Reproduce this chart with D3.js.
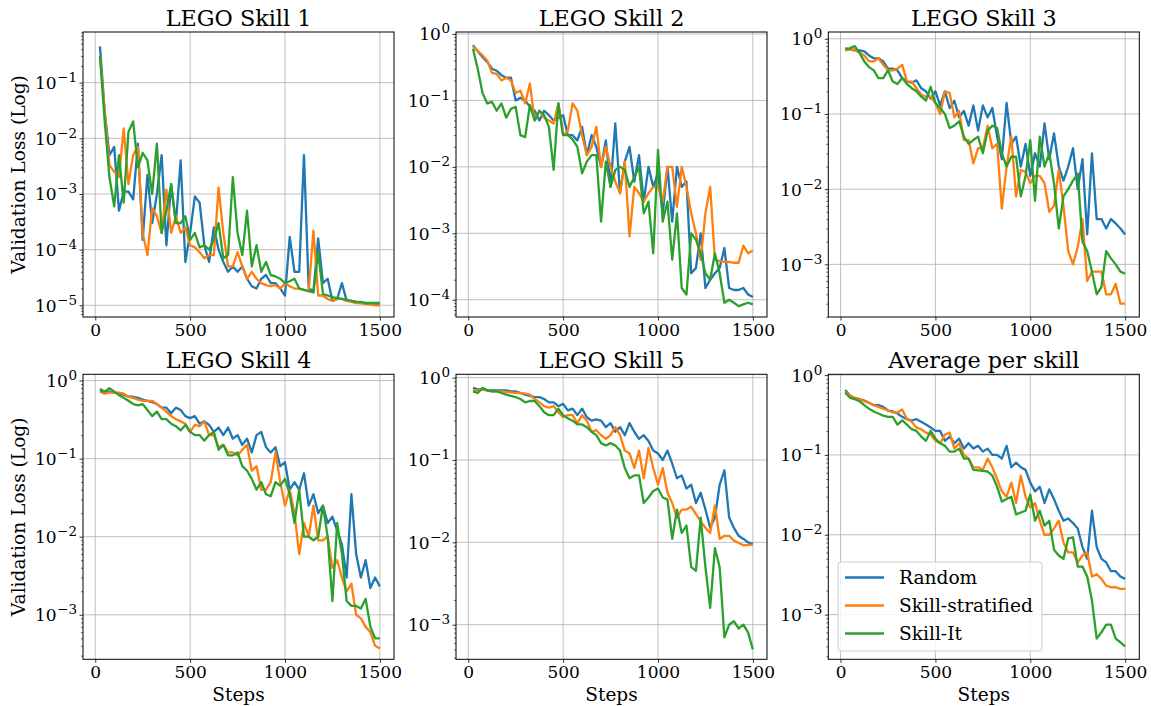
<!DOCTYPE html>
<html>
<head>
<meta charset="utf-8">
<script src="https://cdn.jsdelivr.net/npm/d3@7"></script>
<style>
  body { margin: 0; background: #fff; }
  text { font-family: "DejaVu Serif", serif; fill: #000; }
</style>
</head>
<body>
<svg id="chart" width="1151" height="706"></svg>
<script>
// training steps at which validation loss was logged
const steps = [
  25, 50, 75, 100, 125, 150, 175, 200, 225, 250,
  275, 300, 325, 350, 375, 400, 425, 450, 475, 500,
  525, 550, 575, 600, 625, 650, 675, 700, 725, 750,
  775, 800, 825, 850, 875, 900, 925, 950, 975, 1000,
  1025, 1050, 1075, 1100, 1125, 1150, 1175, 1200, 1225, 1250,
  1275, 1300, 1325, 1350, 1375, 1400, 1425, 1450, 1475, 1500
];
const seriesNames = ['Random', 'Skill-stratified', 'Skill-It'];
const panelTitles = ['LEGO Skill 1', 'LEGO Skill 2', 'LEGO Skill 3', 'LEGO Skill 4', 'LEGO Skill 5', 'Average per skill'];
const xTicks = [0, 500, 1000, 1500];

// LEGO Skill 1
const skill1Random = [
  0.45, 0.03, 5e-3, 7e-3, 5e-4, 1.1e-3, 1.1e-3, 8e-4, 8e-3, 1.5e-4,
  2.2e-3, 3e-4, 1e-3, 5e-3, 1.2e-4, 1.5e-3, 3e-4, 4e-3, 6e-5, 2e-4,
  9e-4, 7e-4, 1.2e-4, 6e-5, 2.5e-4, 1e-4, 6e-5, 4e-5, 5e-5, 4e-5,
  5e-5, 3e-5, 2.2e-5, 2e-5, 3e-5, 3.5e-5, 2.5e-5, 2.5e-5, 2e-5, 1.5e-5,
  1.7e-4, 4e-5, 4e-5, 5e-3, 2e-5, 1.8e-5, 1.6e-4, 2.5e-5, 3e-5, 1.2e-5,
  1.3e-5, 2.5e-5, 1.2e-5, 1.2e-5, 1.15e-5, 1.1e-5, 1.1e-5, 1.05e-5, 1.05e-5, 1.05e-5
];
const skill1Strat = [
  0.3, 0.03, 3.3e-3, 2.5e-3, 2e-3, 1.5e-2, 1.5e-3, 5e-3, 7e-3, 2e-4,
  8e-5, 5.5e-4, 4e-4, 2e-4, 1.2e-3, 2e-4, 4e-4, 2e-4, 2.5e-4, 1.2e-4,
  1.1e-4, 9e-5, 7e-5, 8e-5, 8e-5, 1.3e-3, 2e-4, 5e-5, 5e-5, 9e-5,
  5e-5, 3e-5, 4e-5, 3e-5, 2.5e-5, 2.3e-5, 2.2e-5, 2.3e-5, 2e-5, 2.5e-5,
  2.2e-5, 2e-5, 2e-5, 1.9e-5, 1.8e-5, 2.2e-4, 1.5e-5, 1.5e-5, 1.3e-5, 1.2e-5,
  1.3e-5, 1.3e-5, 1.2e-5, 1.15e-5, 1.1e-5, 1.1e-5, 1.05e-5, 1.05e-5, 1.0e-5, 1.0e-5
];
const skill1SkillIt = [
  0.3, 0.02, 2e-3, 6e-4, 5e-3, 7e-4, 1.3e-2, 2e-2, 3e-3, 5.5e-3,
  4e-3, 1e-3, 8e-3, 2e-4, 5e-4, 1.5e-3, 3e-4, 3e-4, 4e-4, 1.5e-4,
  2e-4, 1.1e-4, 1.2e-4, 1e-4, 1.5e-4, 3e-4, 7e-5, 8e-5, 2e-3, 2e-4,
  8e-5, 5e-4, 5e-5, 1.2e-4, 4e-5, 6e-5, 3.5e-5, 3.3e-5, 3e-5, 2.5e-5,
  2.7e-5, 3e-5, 2e-5, 1.9e-5, 1.8e-5, 1.7e-5, 9e-5, 1.6e-5, 1.5e-5, 1.4e-5,
  1.35e-5, 1.3e-5, 1.25e-5, 1.2e-5, 1.15e-5, 1.15e-5, 1.1e-5, 1.1e-5, 1.1e-5, 1.1e-5
];

// LEGO Skill 2
const skill2Random = [
  0.68, 0.55, 0.45, 0.38, 0.3, 0.28, 0.24, 0.22, 0.22, 0.1,
  0.11, 0.1, 0.08, 0.07, 0.05, 0.07, 0.06, 0.05, 0.055, 0.06,
  0.03, 0.03, 0.025, 0.04, 0.015, 0.03, 0.02, 0.01, 0.025, 0.005,
  0.045, 0.004, 0.012, 0.02, 0.006, 0.015, 0.003, 0.01, 0.005, 0.008,
  0.002, 0.01, 0.0015, 0.01, 0.005, 0.006, 0.00025, 0.0003, 0.001, 0.00015,
  0.0002, 0.00025, 0.0003, 0.0006, 0.00015, 0.00014, 0.00014, 0.00015, 0.00012, 0.00011
];
const skill2Strat = [
  0.65, 0.55, 0.48, 0.4, 0.26, 0.25, 0.2, 0.22, 0.2, 0.13,
  0.14, 0.09, 0.18, 0.05, 0.07, 0.055, 0.05, 0.045, 0.09, 0.03,
  0.035, 0.09, 0.07, 0.03, 0.015, 0.02, 0.04, 0.01, 0.02, 0.01,
  0.006, 0.004, 0.012, 0.0009, 0.005, 0.004, 0.003, 0.004, 0.005, 0.005,
  0.003, 0.01, 0.01, 0.0025, 0.01, 0.005, 0.002, 0.001, 0.0004, 0.002,
  0.005, 0.0004, 0.00038, 0.00037, 0.00037, 0.00036, 0.00036, 0.00065, 0.0005, 0.00055
];
const skill2SkillIt = [
  0.6, 0.3, 0.13, 0.09, 0.095, 0.07, 0.09, 0.055, 0.075, 0.08,
  0.03, 0.028, 0.085, 0.05, 0.07, 0.06, 0.04, 0.009, 0.09, 0.03,
  0.03, 0.026, 0.02, 0.008, 0.012, 0.015, 0.015, 0.0015, 0.012, 0.005,
  0.009, 0.01, 0.009, 0.005, 0.007, 0.01, 0.002, 0.003, 0.0005, 0.018,
  0.0015, 0.003, 0.0004, 0.002, 0.00015, 0.00012, 0.001, 0.0008, 0.0005, 0.00025,
  0.0002, 0.0005, 0.00025, 0.00009, 0.0001, 0.00009, 0.00008, 0.000085, 0.00009, 0.000085
];

// LEGO Skill 3
const skill3Random = [
  0.75, 0.72, 0.7, 0.7, 0.68, 0.6, 0.55, 0.55, 0.5, 0.4,
  0.4, 0.38, 0.3, 0.27, 0.26, 0.28, 0.22, 0.2, 0.16, 0.2,
  0.13, 0.2, 0.12, 0.15, 0.09, 0.11, 0.07, 0.13, 0.06, 0.13,
  0.09, 0.12, 0.05, 0.025, 0.14, 0.04, 0.05, 0.02, 0.04, 0.015,
  0.03, 0.02, 0.075, 0.025, 0.055, 0.02, 0.013, 0.02, 0.035, 0.01,
  0.025, 0.0025, 0.03, 0.004, 0.004, 0.003, 0.004, 0.0035, 0.003, 0.0025
];
const skill3Strat = [
  0.7, 0.72, 0.72, 0.65, 0.6, 0.5, 0.5, 0.55, 0.45, 0.38,
  0.38, 0.4, 0.45, 0.27, 0.27, 0.22, 0.18, 0.17, 0.17, 0.14,
  0.1, 0.2, 0.19, 0.09, 0.11, 0.045, 0.045, 0.022, 0.035, 0.035,
  0.07, 0.035, 0.04, 0.0055, 0.02, 0.05, 0.008, 0.018, 0.017, 0.012,
  0.015, 0.015, 0.012, 0.005, 0.006, 0.018, 0.006, 0.0015, 0.001, 0.0017,
  0.004, 0.0006, 0.0008, 0.0008, 0.0008, 0.0004, 0.0004, 0.00055, 0.0003, 0.0003
];
const skill3SkillIt = [
  0.72, 0.75, 0.8, 0.65, 0.5, 0.42, 0.38, 0.3, 0.3, 0.38,
  0.27, 0.25, 0.3, 0.25, 0.22, 0.2, 0.17, 0.15, 0.23, 0.14,
  0.12, 0.1, 0.065, 0.07, 0.08, 0.05, 0.04, 0.045, 0.05, 0.03,
  0.06, 0.07, 0.065, 0.03, 0.02, 0.027, 0.027, 0.008, 0.015, 0.045,
  0.007, 0.05, 0.02, 0.03, 0.012, 0.003, 0.008, 0.01, 0.013, 0.016,
  0.002, 0.0015, 0.0008, 0.0004, 0.0005, 0.0015, 0.0012, 0.001, 0.0008, 0.00075
];

// LEGO Skill 4
const skill4Random = [
  0.78, 0.72, 0.72, 0.7, 0.68, 0.66, 0.62, 0.62, 0.6, 0.57,
  0.55, 0.53, 0.5, 0.45, 0.45, 0.38, 0.45, 0.42, 0.35, 0.33,
  0.35, 0.28, 0.3, 0.27, 0.22, 0.25, 0.2, 0.25, 0.18, 0.2,
  0.15, 0.18, 0.12, 0.2, 0.22, 0.14, 0.12, 0.14, 0.08, 0.09,
  0.04, 0.05, 0.04, 0.065, 0.025, 0.035, 0.02, 0.025, 0.015, 0.018,
  0.012, 0.008, 0.003, 0.035, 0.006, 0.003, 0.005, 0.0022, 0.003, 0.0023
];
const skill4Strat = [
  0.72, 0.68, 0.7, 0.7, 0.7, 0.68, 0.62, 0.6, 0.57, 0.55,
  0.55, 0.55, 0.5, 0.45, 0.4, 0.35, 0.32, 0.3, 0.28, 0.22,
  0.27, 0.26, 0.3, 0.2, 0.2, 0.14, 0.15, 0.12, 0.12, 0.11,
  0.13, 0.15, 0.07, 0.08, 0.04, 0.04, 0.05, 0.12, 0.05, 0.025,
  0.04, 0.02, 0.006, 0.015, 0.01, 0.025, 0.009, 0.009, 0.01, 0.004,
  0.005, 0.003, 0.002, 0.0025, 0.001, 0.0009, 0.0007, 0.0006, 0.0004, 0.00037
];
const skill4SkillIt = [
  0.75, 0.72, 0.8, 0.72, 0.65, 0.6, 0.55, 0.5, 0.48, 0.5,
  0.42, 0.35, 0.4, 0.32, 0.32, 0.28, 0.26, 0.23, 0.27, 0.22,
  0.2, 0.2, 0.17, 0.2, 0.22, 0.13, 0.15, 0.11, 0.11, 0.12,
  0.08, 0.07, 0.055, 0.04, 0.05, 0.035, 0.033, 0.05, 0.045, 0.055,
  0.035, 0.015, 0.04, 0.01, 0.01, 0.009, 0.01, 0.025, 0.01, 0.0015,
  0.015, 0.006, 0.0015, 0.0013, 0.0013, 0.0012, 0.0016, 0.0007, 0.0005, 0.0005
];

// LEGO Skill 5
const skill5Random = [
  0.75, 0.72, 0.72, 0.7, 0.7, 0.7, 0.7, 0.7, 0.68, 0.68,
  0.65, 0.62, 0.6, 0.58, 0.58, 0.55, 0.5, 0.5, 0.45, 0.48,
  0.4, 0.42, 0.35, 0.42, 0.33, 0.3, 0.31, 0.3, 0.25, 0.28,
  0.22, 0.25, 0.2, 0.28, 0.22, 0.18, 0.2, 0.17, 0.13, 0.12,
  0.1, 0.13, 0.09, 0.06, 0.065, 0.045, 0.05, 0.03, 0.04, 0.025,
  0.015, 0.02, 0.05, 0.075, 0.02, 0.015, 0.012, 0.011, 0.01, 0.0095
];
const skill5Strat = [
  0.7, 0.7, 0.72, 0.7, 0.68, 0.68, 0.68, 0.67, 0.66, 0.65,
  0.65, 0.64, 0.62, 0.55, 0.5, 0.45, 0.43, 0.45, 0.38, 0.33,
  0.35, 0.35, 0.28, 0.35, 0.3, 0.22, 0.23, 0.2, 0.18, 0.2,
  0.25, 0.2, 0.13, 0.12, 0.08, 0.13, 0.06, 0.14, 0.08, 0.05,
  0.08, 0.04, 0.03, 0.02, 0.025, 0.025, 0.027, 0.022, 0.018, 0.015,
  0.013, 0.028, 0.011, 0.012, 0.012, 0.0105, 0.0098, 0.0092, 0.0093, 0.0093
];
const skill5SkillIt = [
  0.68, 0.65, 0.75, 0.7, 0.68, 0.68, 0.65, 0.62, 0.6, 0.58,
  0.55, 0.5, 0.52, 0.52, 0.45, 0.38, 0.35, 0.35, 0.42, 0.35,
  0.32, 0.3, 0.27, 0.27, 0.25, 0.22, 0.2, 0.16, 0.15, 0.16,
  0.15, 0.13, 0.08, 0.06, 0.065, 0.065, 0.03, 0.035, 0.042, 0.045,
  0.035, 0.033, 0.011, 0.025, 0.013, 0.016, 0.005, 0.0045, 0.02, 0.005,
  0.0016, 0.0085, 0.005, 0.0007, 0.001, 0.0011, 0.0009, 0.001, 0.0008, 0.0005
];

// Average per skill
const avgRandom = [
  0.65, 0.55, 0.52, 0.5, 0.48, 0.45, 0.42, 0.42, 0.4, 0.36,
  0.35, 0.33, 0.3, 0.28, 0.27, 0.28, 0.26, 0.24, 0.22, 0.2,
  0.2, 0.15, 0.17, 0.14, 0.16, 0.12, 0.14, 0.12, 0.13, 0.11,
  0.12, 0.1, 0.1, 0.09, 0.13, 0.07, 0.08, 0.07, 0.065, 0.045,
  0.035, 0.04, 0.025, 0.037, 0.028, 0.02, 0.015, 0.016, 0.014, 0.012,
  0.007, 0.005, 0.02, 0.007, 0.005, 0.0045, 0.0035, 0.0035, 0.003, 0.0028
];
const avgStrat = [
  0.62, 0.55, 0.52, 0.5, 0.47, 0.45, 0.42, 0.4, 0.38, 0.36,
  0.34, 0.34, 0.37, 0.28, 0.26, 0.22, 0.21, 0.19, 0.18, 0.15,
  0.14, 0.18, 0.19, 0.12, 0.14, 0.1, 0.09, 0.07, 0.07, 0.065,
  0.09, 0.07, 0.05, 0.035, 0.03, 0.045, 0.025, 0.055, 0.03, 0.022,
  0.025, 0.015, 0.01, 0.01, 0.012, 0.015, 0.008, 0.006, 0.006, 0.0045,
  0.0055, 0.006, 0.003, 0.0032, 0.0028, 0.0023, 0.0022, 0.0022, 0.0021, 0.0021
];
const avgSkillIt = [
  0.6, 0.52, 0.5, 0.47, 0.42, 0.38, 0.35, 0.33, 0.31, 0.3,
  0.3, 0.24, 0.27, 0.24, 0.21, 0.2, 0.17, 0.15, 0.2, 0.16,
  0.14, 0.13, 0.11, 0.11, 0.12, 0.09, 0.09, 0.065, 0.064, 0.063,
  0.062, 0.055, 0.04, 0.026, 0.028, 0.03, 0.018, 0.019, 0.02, 0.032,
  0.015, 0.02, 0.013, 0.015, 0.0065, 0.0055, 0.005, 0.009, 0.0093, 0.004,
  0.004, 0.003, 0.0015, 0.0005, 0.0006, 0.00075, 0.00075, 0.0005, 0.00045, 0.0004
];

const colors = ['#1f77b4', '#ff7f0e', '#2ca02c'];

// one entry per subplot, yExp = visible log10 range of the y axis
const panels = [
  { title: panelTitles[0], series: [skill1Random, skill1Strat, skill1SkillIt], yExp: [-5.21, -0.09] },
  { title: panelTitles[1], series: [skill2Random, skill2Strat, skill2SkillIt], yExp: [-4.26, 0.03] },
  { title: panelTitles[2], series: [skill3Random, skill3Strat, skill3SkillIt], yExp: [-3.70, 0.09] },
  { title: panelTitles[3], series: [skill4Random, skill4Strat, skill4SkillIt], yExp: [-3.57, 0.08] },
  { title: panelTitles[4], series: [skill5Random, skill5Strat, skill5SkillIt], yExp: [-3.42, 0.04] },
  { title: panelTitles[5], series: [avgRandom, avgStrat, avgSkillIt], yExp: [-3.56, 0.01] }
];

const svg = d3.select('#chart');
const panelW = 311, panelH = 285;
const colX = [83, 456, 828.3];
const rowY = [32, 374.3];

const x = d3.scaleLinear().domain([-64.5, 1574.5]).range([0, panelW]);

panels.forEach((p, i) => {
  const col = i % 3, row = Math.floor(i / 3);
  const g = svg.append('g').attr('transform', `translate(${colX[col]},${rowY[row]})`);

  const y = d3.scaleLog().domain([Math.pow(10, p.yExp[0]), Math.pow(10, p.yExp[1])]).range([panelH, 0]);

  const majors = d3.range(Math.ceil(p.yExp[0]), Math.floor(p.yExp[1]) + 1).map(e => Math.pow(10, e));
  const minors = [];
  d3.range(Math.floor(p.yExp[0]), Math.floor(p.yExp[1]) + 1).forEach(e => {
    for (let k = 2; k <= 9; k++) {
      const v = k * Math.pow(10, e);
      if (Math.log10(v) >= p.yExp[0] && Math.log10(v) <= p.yExp[1]) minors.push(v);
    }
  });

  // grid
  g.append('g').selectAll('line').data(xTicks).enter().append('line')
    .attr('x1', d => x(d)).attr('x2', d => x(d)).attr('y1', 0).attr('y2', panelH)
    .attr('stroke', '#b0b0b0').attr('stroke-width', 0.8);
  g.append('g').selectAll('line').data(majors).enter().append('line')
    .attr('x1', 0).attr('x2', panelW).attr('y1', d => y(d)).attr('y2', d => y(d))
    .attr('stroke', '#b0b0b0').attr('stroke-width', 0.8);

  // lines
  g.append('clipPath').attr('id', 'clip' + i)
    .append('rect').attr('width', panelW).attr('height', panelH);
  const line = d3.line().x(d => x(d[0])).y(d => y(d[1]));
  p.series.forEach((vals, s) => {
    g.append('path')
      .datum(d3.zip(steps, vals))
      .attr('clip-path', `url(#clip${i})`)
      .attr('fill', 'none')
      .attr('stroke', colors[s])
      .attr('stroke-width', 2.3)
      .attr('stroke-linejoin', 'round')
      .attr('d', line);
  });

  // x axis
  const xa = g.append('g').attr('transform', `translate(0,${panelH})`)
    .call(d3.axisBottom(x).tickValues(xTicks).tickSize(3.5).tickPadding(3.5).tickFormat(d3.format('d')));
  xa.select('.domain').remove();
  xa.attr('font-family', null).attr('font-size', null);
  xa.selectAll('.tick line').attr('stroke-width', 0.8);
  xa.selectAll('.tick text').style('font-size', '17px');

  // y axis, minor ticks
  const ym = g.append('g').call(d3.axisLeft(y).tickValues(minors).tickSize(2).tickFormat(''));
  ym.select('.domain').remove();
  ym.selectAll('.tick line').attr('stroke-width', 0.6);

  // y axis, major ticks with 10^n labels
  const ya = g.append('g').call(d3.axisLeft(y).tickValues(majors).tickSize(3.5).tickFormat(''));
  ya.select('.domain').remove();
  ya.attr('font-family', null).attr('font-size', null);
  ya.selectAll('.tick line').attr('stroke-width', 0.8);
  ya.selectAll('.tick text')
    .attr('x', -6).attr('y', 6).attr('dy', null)
    .style('font-size', '17px')
    .text('10')
    .append('tspan')
      .attr('dx', 0.5)
      .attr('dy', -7)
      .style('font-size', '13.5px')
      .text(d => {
        const e = Math.round(Math.log10(d));
        return e < 0 ? '\u2212' + (-e) : String(e);
      });

  // frame
  g.append('rect').attr('width', panelW).attr('height', panelH)
    .attr('fill', 'none').attr('stroke', '#000').attr('stroke-width', 1);

  // title
  g.append('text').attr('x', panelW / 2).attr('y', -6)
    .attr('text-anchor', 'middle').style('font-size', '22.3px').text(p.title);

  if (col === 0) {
    g.append('text')
      .attr('transform', `translate(-64,${panelH / 2}) rotate(-90)`)
      .attr('text-anchor', 'middle').attr('dy', '0.3em')
      .style('font-size', '18.6px')
      .text('Validation Loss (Log)');
  }
  if (row === 1) {
    g.append('text').attr('x', panelW / 2).attr('y', panelH + 42)
      .attr('text-anchor', 'middle').style('font-size', '18.5px').text('Steps');
  }
});

// legend (inside the last panel)
const legend = svg.append('g').attr('transform', 'translate(838,562)');
legend.append('rect').attr('width', 204).attr('height', 89).attr('rx', 3)
  .attr('fill', '#fff').attr('fill-opacity', 0.8)
  .attr('stroke', '#cccccc').attr('stroke-width', 1);
seriesNames.forEach((name, s) => {
  const row = legend.append('g').attr('transform', `translate(0,${15.5 + s * 28})`);
  row.append('line').attr('x1', 7).attr('x2', 46).attr('y1', 0).attr('y2', 0)
    .attr('stroke', colors[s]).attr('stroke-width', 2.3);
  row.append('text').attr('x', 61).attr('dy', '0.35em')
    .style('font-size', '18.6px').text(name);
});
</script>
</body>
</html>
